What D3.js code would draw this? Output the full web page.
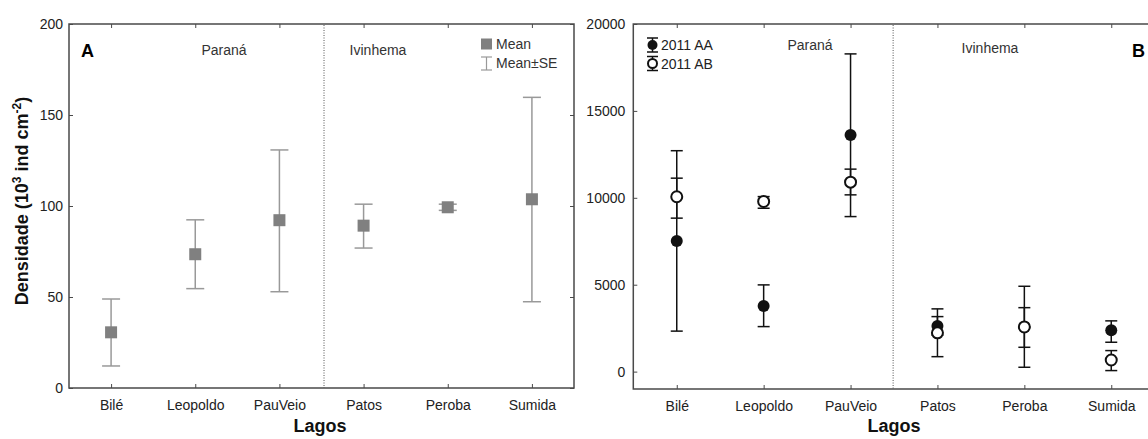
<!DOCTYPE html>
<html><head><meta charset="utf-8">
<script src="https://cdn.jsdelivr.net/npm/d3@7"></script>
<style>body{margin:0;background:#fff}svg{display:block}text{font-family:Arial,"Liberation Sans",sans-serif}</style>
</head><body><svg id="c" width="1148" height="439"></svg>
<script>
const lakes = ["Bilé","Leopoldo","PauVeio","Patos","Peroba","Sumida"];
// Panel A: mean and mean±SE
const aMean  = [30.6, 73.5, 92.2, 89.2, 99.3, 103.7];
const aLow   = [12.1, 54.6, 52.9, 76.9, 97.6, 47.4];
const aHigh  = [48.9, 92.4, 130.8, 101.0, 101.0, 159.7];
// Panel B: 2011 AA and 2011 AB
const bAAMean = [7520, 3780, 13620, 2630, 2570, 2380];
const bAALow  = [2330, 2590, 8920, 2100, 1400, 1690];
const bAAHigh = [12710, 4990, 18280, 3165, 3680, 2920];
const bABMean = [10060, 9790, 10900, 2230, 2570, 670];
const bABLow  = [8830, 9400, 10170, 860, 250, 60];
const bABHigh = [11130, 10070, 11650, 3610, 4910, 1210];
const aTicks = [0,50,100,150,200];
const bTicks = [0,5000,10000,15000,20000];

const svg = d3.select("#c");
const frameCol = "#4a4a4a";
const font = 14;

function frame(g, x, y, L, R, T, B, right, ticks, pad){
  const bot = g.append("g").attr("transform",`translate(0,${B})`)
    .call(d3.axisBottom(x).tickSize(-4).tickPadding(12));
  const left = g.append("g").attr("transform",`translate(${L},0)`)
    .call(d3.axisLeft(y).tickValues(ticks).tickFormat(d3.format("d")).tickSize(-4).tickPadding(pad));
  const top = g.append("g").attr("transform",`translate(0,${T})`)
    .call(d3.axisTop(x).tickSize(-4).tickFormat(""));
  [bot,left,top].forEach(a=>{
    a.select(".domain").remove();
    a.selectAll("line").attr("stroke",frameCol);
    a.selectAll("text").attr("font-size",font).attr("fill","#222").attr("font-family",'Arial,"Liberation Sans",sans-serif');
  });
  if(right){
    const r = g.append("g").attr("transform",`translate(${R},0)`)
      .call(d3.axisRight(y).tickValues(ticks).tickSize(-4).tickFormat(""));
    r.select(".domain").remove();
    r.selectAll("line").attr("stroke",frameCol);
  }
  const p = g.append("path").attr("fill","none").attr("stroke",frameCol).attr("stroke-width",1.5);
  if(right) p.attr("d",`M${L},${T}H${R}V${B}H${L}Z`);
  else p.attr("d",`M${R},${T}H${L}V${B}H${R}`);
}

// ---------- Panel A ----------
const AL=69, AR=574, AT=24, AB=388;
const xA = d3.scalePoint().domain(lakes).range([AL,AR]).padding(0.5);
const yA = d3.scaleLinear().domain([0,200]).range([AB,AT]);
const gA = svg.append("g");
frame(gA, xA, yA, AL, AR, AT, AB, true, aTicks, 6);
const sepA = xA("PauVeio") + xA.step()*0.53;
gA.append("line").attr("x1",sepA).attr("x2",sepA).attr("y1",AT+1).attr("y2",AB)
  .attr("stroke","#555").attr("stroke-width",1).attr("stroke-dasharray","1,1.5");
const grey="#999", sq="#808080";
lakes.forEach((k,i)=>{
  const cx=xA(k);
  const e=gA.append("g").attr("stroke",grey).attr("stroke-width",1.5);
  e.append("line").attr("x1",cx).attr("x2",cx).attr("y1",yA(aLow[i])).attr("y2",yA(aHigh[i]));
  [aLow[i],aHigh[i]].forEach(v=>e.append("line").attr("x1",cx-9).attr("x2",cx+9).attr("y1",yA(v)).attr("y2",yA(v)));
  gA.append("rect").attr("x",cx-6).attr("y",yA(aMean[i])-6).attr("width",12).attr("height",12).attr("fill",sq);
});
gA.append("text").attr("x",81).attr("y",57).attr("font-size",18).attr("font-weight","bold").text("A");
gA.append("text").attr("x",224).attr("y",55).attr("font-size",14).attr("fill","#333").attr("text-anchor","middle").text("Paraná");
gA.append("text").attr("x",378).attr("y",55).attr("font-size",14).attr("fill","#333").attr("text-anchor","middle").text("Ivinhema");
// legend A
gA.append("rect").attr("x",481).attr("y",38.5).attr("width",11).attr("height",11).attr("fill",sq);
gA.append("text").attr("x",496).attr("y",49).attr("font-size",14).attr("fill","#333").text("Mean");
const lg=gA.append("g").attr("stroke",grey).attr("stroke-width",1.2);
lg.append("line").attr("x1",486.5).attr("x2",486.5).attr("y1",57).attr("y2",70);
lg.append("line").attr("x1",481).attr("x2",492).attr("y1",57).attr("y2",57);
lg.append("line").attr("x1",481).attr("x2",492).attr("y1",70).attr("y2",70);
gA.append("text").attr("x",496).attr("y",68).attr("font-size",14).attr("fill","#333").text("Mean±SE");
// y label
const yl = gA.append("text").attr("transform","translate(28,201) rotate(-90)")
  .attr("text-anchor","middle").attr("font-size",18).attr("font-weight","bold").attr("fill","#111");
yl.append("tspan").text("Densidade (10");
yl.append("tspan").attr("font-size",12).attr("dy",-7).text("3");
yl.append("tspan").attr("dy",7).text(" ind cm");
yl.append("tspan").attr("font-size",12).attr("dy",-7).text("-2");
yl.append("tspan").attr("dy",7).text(")");
gA.append("text").attr("x",320).attr("y",432).attr("text-anchor","middle").attr("font-size",18).attr("font-weight","bold").attr("fill","#111").text("Lagos");

// ---------- Panel B ----------
const BL=633.3, BR=1154.7, BT=24, BB=389;
const xB = d3.scalePoint().domain(lakes).range([BL,BR]).padding(0.5);
const yB = d3.scaleLinear().domain([-1000,20000]).range([BB,BT]);
const gB = svg.append("g");
frame(gB, xB, yB, BL, BR, BT, BB, false, bTicks, 8);
const sepB = xB("PauVeio") + xB.step()*0.49;
gB.append("line").attr("x1",sepB).attr("x2",sepB).attr("y1",BT+1).attr("y2",BB)
  .attr("stroke","#555").attr("stroke-width",1).attr("stroke-dasharray","1,1.5");
function ebar(g,cx,lo,hi,sc){
  const e=g.append("g").attr("stroke","#111").attr("stroke-width",1.5);
  e.append("line").attr("x1",cx).attr("x2",cx).attr("y1",sc(lo)).attr("y2",sc(hi));
  [lo,hi].forEach(v=>e.append("line").attr("x1",cx-6).attr("x2",cx+6).attr("y1",sc(v)).attr("y2",sc(v)));
}
lakes.forEach((k,i)=>{
  const cx=xB(k);
  ebar(gB,cx,bAALow[i],bAAHigh[i],yB);
  ebar(gB,cx,bABLow[i],bABHigh[i],yB);
});
lakes.forEach((k,i)=>{
  const cx=xB(k);
  gB.append("circle").attr("cx",cx).attr("cy",yB(bAAMean[i])).attr("r",6).attr("fill","#111");
  gB.append("circle").attr("cx",cx).attr("cy",yB(bABMean[i])).attr("r",5.5).attr("fill","#fff").attr("stroke","#111").attr("stroke-width",2);
});
gB.append("text").attr("x",1132).attr("y",57).attr("font-size",18).attr("font-weight","bold").text("B");
gB.append("text").attr("x",810).attr("y",50).attr("font-size",14).attr("fill","#333").attr("text-anchor","middle").text("Paraná");
gB.append("text").attr("x",990).attr("y",53).attr("font-size",14).attr("fill","#333").attr("text-anchor","middle").text("Ivinhema");
// legend B
function lgB(cy, filled, ty, label){
  const e=gB.append("g").attr("stroke","#111").attr("stroke-width",1.5);
  e.append("line").attr("x1",652.5).attr("x2",652.5).attr("y1",cy-7).attr("y2",cy+7);
  e.append("line").attr("x1",647).attr("x2",658).attr("y1",cy-7).attr("y2",cy-7);
  e.append("line").attr("x1",647).attr("x2",658).attr("y1",cy+7).attr("y2",cy+7);
  gB.append("circle").attr("cx",652.5).attr("cy",cy).attr("r",filled?5:4.5)
    .attr("fill",filled?"#111":"#fff").attr("stroke","#111").attr("stroke-width",filled?0:2);
  gB.append("text").attr("x",661).attr("y",ty).attr("font-size",14).attr("fill","#222").text(label);
}
lgB(45,true,50,"2011 AA");
lgB(63.5,false,69,"2011 AB");
gB.append("text").attr("x",894).attr("y",432).attr("text-anchor","middle").attr("font-size",18).attr("font-weight","bold").attr("fill","#111").text("Lagos");
</script></body></html>
